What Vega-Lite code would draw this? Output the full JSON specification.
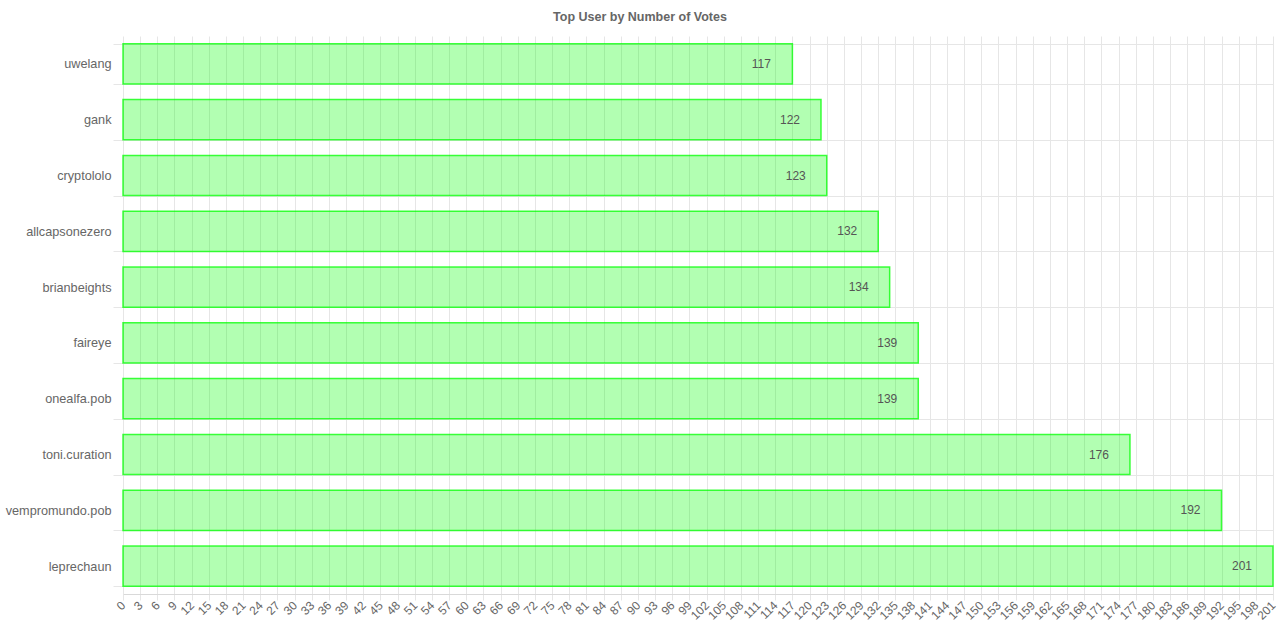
{
  "$schema": "https://vega.github.io/schema/vega-lite/v6.json",
  "description": "Top users by number of votes, horizontal bars",
  "width": 1150,
  "height": 558,
  "autosize": "none",
  "padding": {"left": 123, "top": 36, "right": 7, "bottom": 46},
  "background": "white",
  "title": {
    "text": "Top User by Number of Votes",
    "font": "Liberation Sans",
    "fontSize": 12.5,
    "fontWeight": "bold",
    "color": "#666666",
    "offset": 7,
    "dx": -58
  },
  "data": {
    "values": [
      {"user": "uwelang", "votes": 117},
      {"user": "gank", "votes": 122},
      {"user": "cryptololo", "votes": 123},
      {"user": "allcapsonezero", "votes": 132},
      {"user": "brianbeights", "votes": 134},
      {"user": "faireye", "votes": 139},
      {"user": "onealfa.pob", "votes": 139},
      {"user": "toni.curation", "votes": 176},
      {"user": "vempromundo.pob", "votes": 192},
      {"user": "leprechaun", "votes": 201}
    ]
  },
  "encoding": {
    "y": {
      "field": "user",
      "type": "nominal",
      "sort": null,
      "title": null,
      "scale": {"paddingInner": 0.28, "paddingOuter": 0.14},
      "axis": {
        "tickBand": "extent",
        "grid": true,
        "tickSize": 10,
        "tickColor": "#e6e6e6",
        "gridColor": "#e6e6e6",
        "domain": false,
        "labelPadding": 2,
        "labelFont": "Liberation Sans",
        "labelFontSize": 12.7,
        "labelColor": "#666666"
      }
    },
    "x": {
      "field": "votes",
      "type": "quantitative",
      "title": null,
      "scale": {"domain": [0, 201], "nice": false},
      "axis": {
        "values": [0, 3, 6, 9, 12, 15, 18, 21, 24, 27, 30, 33, 36, 39, 42, 45, 48, 51, 54, 57, 60, 63, 66, 69, 72, 75, 78, 81, 84, 87, 90, 93, 96, 99, 102, 105, 108, 111, 114, 117, 120, 123, 126, 129, 132, 135, 138, 141, 144, 147, 150, 153, 156, 159, 162, 165, 168, 171, 174, 177, 180, 183, 186, 189, 192, 195, 198, 201],
        "labelAngle": -45,
        "labelAlign": "right",
        "labelBaseline": "middle",
        "labelOverlap": false,
        "labelFlush": false,
        "tickSize": 6,
        "tickColor": "#e6e6e6",
        "gridColor": "#e6e6e6",
        "domainColor": "#d9d9d9",
        "labelPadding": 3,
        "labelFont": "Liberation Sans",
        "labelFontSize": 12,
        "labelColor": "#666666"
      }
    }
  },
  "layer": [
    {
      "mark": {
        "type": "bar",
        "color": "#00ff00",
        "fillOpacity": 0.3,
        "stroke": "#00ff00",
        "strokeOpacity": 0.75,
        "strokeWidth": 1.5
      }
    },
    {
      "mark": {
        "type": "text",
        "align": "center",
        "baseline": "middle",
        "dx": -31,
        "font": "Liberation Sans",
        "fontSize": 12,
        "color": "#555555"
      },
      "encoding": {"text": {"field": "votes", "type": "quantitative"}}
    }
  ],
  "config": {
    "view": {"stroke": null}
  }
}
